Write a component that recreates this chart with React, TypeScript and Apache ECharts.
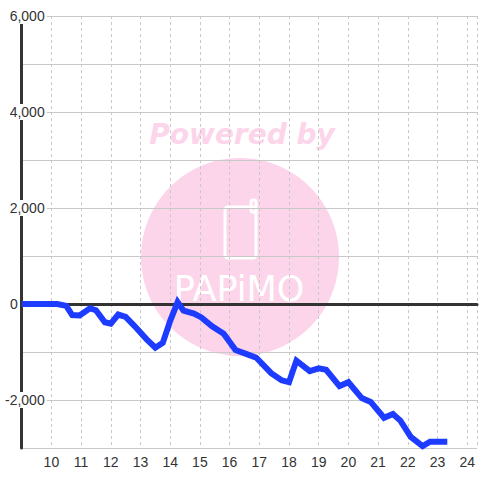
import React, { useEffect, useRef } from "react";
import * as echarts from "echarts";

const xValues = [
  9.0, 10.2, 10.5, 10.7, 10.95, 11.3, 11.5, 11.8, 12.0, 12.25, 12.5, 12.8, 13.2, 13.5,
  13.75, 14.0, 14.25, 14.45, 14.8, 15.05, 15.4, 15.8, 16.2, 16.6, 16.9, 17.4, 17.75,
  18.0, 18.25, 18.7, 19.0, 19.25, 19.7, 20.0, 20.45, 20.75, 21.2, 21.5, 21.75, 22.1,
  22.5, 22.75, 23.33,
];
const yValues = [
  0, 0, -40, -230, -240, -90, -130, -380, -410, -220, -270, -460, -730, -910,
  -810, -350, 40, -140, -200, -280, -460, -620, -960, -1050, -1120, -1440, -1590,
  -1630, -1180, -1400, -1340, -1370, -1710, -1630, -1960, -2040, -2370, -2290, -2430, -2770,
  -2960, -2870, -2870,
];
const xTicks = [10, 11, 12, 13, 14, 15, 16, 17, 18, 19, 20, 21, 22, 23, 24];
const yLabelValues = [6000, 4000, 2000, 0, -2000];

const LABEL_FONT = "'Liberation Sans', Arial, sans-serif";
const PINK = "#fcd5ea";

export default function App() {
  const ref = useRef<HTMLDivElement>(null);
  useEffect(() => {
    if (!ref.current) return;
    const chart = echarts.init(ref.current, null, { renderer: "svg" });
    const option: any = {
      animation: false,
      backgroundColor: "#ffffff",
      grid: { left: 20, right: 0, top: 16, bottom: 32, containLabel: false },
      graphic: [
        {
          type: "group",
          z: 0,
          silent: true,
          children: [
            { type: "circle", shape: { cx: 240, cy: 257, r: 99 }, style: { fill: PINK } },
            {
              type: "text",
              x: 242,
              y: 134,
              style: {
                text: "Powered by",
                fill: PINK,
                font: "italic bold 28px 'DejaVu Sans', Verdana, sans-serif",
                align: "center",
                verticalAlign: "middle",
              },
            },
            {
              type: "rect",
              shape: { x: 225, y: 207, width: 31, height: 51, r: 3 },
              style: { fill: "none", stroke: "#ffffff", lineWidth: 3 },
            },
            {
              type: "rect",
              shape: { x: 251, y: 200, width: 5, height: 12, r: 2 },
              style: { fill: "none", stroke: "#ffffff", lineWidth: 3 },
            },
            {
              type: "text",
              x: 239,
              y: 289,
              style: {
                text: "PAPiMO",
                fill: "#ffffff",
                font: "normal 35px 'DejaVu Sans', sans-serif",
                align: "center",
                verticalAlign: "middle",
              },
            },
          ],
        },
      ],
      xAxis: [
        {
          type: "value",
          min: 9,
          max: 24.33,
          interval: 1,
          position: "bottom",
          z: 1,
          axisLine: { show: false, onZero: false },
          axisTick: { show: false },
          axisLabel: {
            margin: 7,
            fontSize: 14,
            color: "#333",
            fontFamily: LABEL_FONT,
            formatter: (v: number) => (xTicks.indexOf(v) >= 0 ? String(v) : ""),
          },
          splitLine: { show: true, lineStyle: { color: "#c8c8c8", width: 1, type: [3, 3] } },
        },
        {
          type: "value",
          min: 9,
          max: 24.33,
          interval: 1,
          position: "bottom",
          z: 2,
          axisLine: { show: true, onZero: true, lineStyle: { color: "#333", width: 3 } },
          axisTick: { show: false },
          axisLabel: { show: false },
          splitLine: { show: false },
        },
      ],
      yAxis: [
        {
          type: "value",
          min: -3000,
          max: 6000,
          interval: 1000,
          position: "left",
          z: 3,
          axisLine: { show: true, onZero: false, lineStyle: { color: "#333", width: 3 } },
          axisTick: { show: false },
          splitLine: { show: false },
          axisLabel: {
            margin: -25,
            align: "right",
            formatter: (v: number) => {
              if (yLabelValues.indexOf(v) < 0) return "";
              if (v === 0) return "{z|0}{s| }";
              return "{a|" + v.toLocaleString("en-US") + "}";
            },
            rich: {
              a: {
                fontSize: 14,
                color: "#333",
                fontFamily: LABEL_FONT,
                backgroundColor: "#ffffff",
                padding: [1, 2, 1, 2],
                lineHeight: 14,
              },
              z: {
                fontSize: 14,
                color: "#333",
                fontFamily: LABEL_FONT,
                backgroundColor: "#ffffff",
                padding: [1, 2, 1, 2],
                lineHeight: 14,
              },
              s: { width: 27, fontSize: 14, lineHeight: 14 },
            },
          },
        },
        {
          type: "value",
          min: -3000,
          max: 6000,
          interval: 1000,
          position: "left",
          z: 1,
          axisLine: { show: false },
          axisTick: { show: false },
          axisLabel: { show: false },
          splitLine: { show: true, lineStyle: { color: "#c8c8c8", width: 1 } },
        },
      ],
      series: [
        {
          type: "line",
          xAxisIndex: 0,
          yAxisIndex: 0,
          z: 4,
          clip: false,
          symbol: "none",
          showSymbol: false,
          data: xValues.map((x, i) => [x, yValues[i]]),
          lineStyle: { color: "#1e3cff", width: 6, cap: "butt", join: "miter" },
        },
      ],
    };
    chart.setOption(option);
    return () => chart.dispose();
  }, []);
  return (
    <div
      ref={ref}
      style={{ position: "absolute", left: 0, top: 0, width: 480, height: 480 }}
    />
  );
}
